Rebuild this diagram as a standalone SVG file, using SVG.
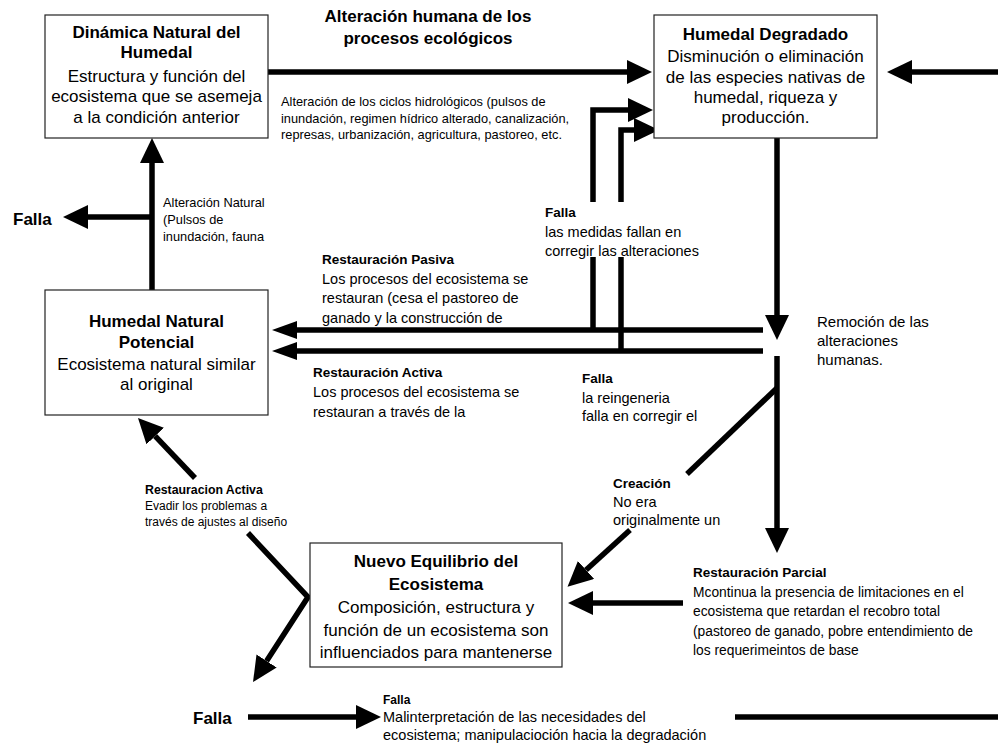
<svg xmlns="http://www.w3.org/2000/svg" width="998" height="746" viewBox="0 0 998 746">
<defs>
<marker id="ah" markerUnits="userSpaceOnUse" markerWidth="25" markerHeight="24" refX="0" refY="12" orient="auto" viewBox="0 0 25 24"><path d="M0,0 L25,12 L0,24 z" fill="#000"/></marker>
<marker id="ahn" markerUnits="userSpaceOnUse" markerWidth="25" markerHeight="18" refX="0" refY="9" orient="auto" viewBox="0 0 25 18"><path d="M0,0 L25,9 L0,18 z" fill="#000"/></marker>
</defs>
<style>
text{font-family:"Liberation Sans",Arial,sans-serif;fill:#000}
.box{fill:#fff;stroke:#222;stroke-width:1.2}
.t{font-size:17px;font-weight:bold;text-anchor:middle}
.b{font-size:17px;text-anchor:middle}
.s{font-size:12.8px}
.m{font-size:14.5px}
.mh{font-size:13.5px;font-weight:bold}
.c{fill:none;stroke:#000;stroke-width:5.5}
.a{marker-end:url(#ah)}
.an{marker-end:url(#ahn)}
</style>
<rect width="998" height="746" fill="#fff"/>
<g id="connectors">
<path class="c a" d="M268,72 H627"/>
<path class="c a" d="M998,72 H912"/>
<path class="c a" d="M152,290 V163"/>
<path class="c a" d="M152,217 H88"/>
<path class="c a" d="M777,138 V315"/>
<path class="c an" d="M763,330 H297"/>
<path class="c an" d="M763,351 H297"/>
<path class="c" d="M593,330 V257"/>
<path class="c a" d="M593,202 V110 H628"/>
<path class="c" d="M621,351 V257"/>
<path class="c a" d="M621,202 V130 H634"/>
<path class="c a" d="M777,356 V528"/>
<path class="c" d="M777,388 L687,474"/>
<path class="c a" d="M630,530 L586,570"/>
<path class="c a" d="M683,603 H593"/>
<path class="c a" d="M195,478 L155.2,436.1"/>
<path class="c a" d="M248,533 L308,597 L266.6,661"/>
<path class="c a" d="M248,717 H356"/>
<path class="c" d="M735,717 H998"/>
</g>
<g id="n1">
<rect class="box" x="45" y="15" width="223" height="123"/>
<text class="t" x="156.5" y="38">Dinámica Natural del</text>
<text class="t" x="156.5" y="58">Humedal</text>
<text class="b" x="156.5" y="82">Estructura y función del</text>
<text class="b" x="156.5" y="102">ecosistema que se asemeja</text>
<text class="b" x="156.5" y="122.5">a la condición anterior</text>
</g>
<g id="n2">
<rect class="box" x="654" y="15" width="223" height="123"/>
<text class="t" x="765.5" y="40">Humedal Degradado</text>
<text class="b" x="765.5" y="62">Disminución o eliminación</text>
<text class="b" x="765.5" y="83">de las especies nativas de</text>
<text class="b" x="765.5" y="103">humedal, riqueza y</text>
<text class="b" x="765.5" y="123">producción.</text>
</g>
<g id="n3">
<rect class="box" x="45" y="290" width="223" height="125"/>
<text class="t" x="156.5" y="327">Humedal Natural</text>
<text class="t" x="156.5" y="348">Potencial</text>
<text class="b" x="156.5" y="370">Ecosistema natural similar</text>
<text class="b" x="156.5" y="390">al original</text>
</g>
<g id="n4">
<rect class="box" x="310" y="543" width="252" height="124"/>
<text class="t" x="436" y="567">Nuevo Equilibrio del</text>
<text class="t" x="436" y="590">Ecosistema</text>
<text class="b" x="436" y="613">Composición, estructura y</text>
<text class="b" x="436" y="636">función de un ecosistema son</text>
<text class="b" x="436" y="658">influenciados para mantenerse</text>
</g>
<g id="labels">
<text class="t" x="428" y="22">Alteración humana de los</text>
<text class="t" x="428" y="44">procesos ecológicos</text>
<text class="s" x="281" y="106">Alteración de los ciclos hidrológicos (pulsos de</text>
<text class="s" x="281" y="122.5">inundación, regimen hídrico alterado, canalización,</text>
<text class="s" x="281" y="138.5">represas, urbanización, agricultura, pastoreo, etc.</text>
<text class="s" x="163" y="207">Alteración Natural</text>
<text class="s" x="163" y="224">(Pulsos de</text>
<text class="s" x="163" y="241">inundación, fauna</text>
<text x="13" y="225" style="font-size:17px;font-weight:bold">Falla</text>
<text class="mh" x="545" y="217">Falla</text>
<text class="m" x="545" y="237">las medidas fallan en</text>
<text class="m" x="545" y="256">corregir las alteraciones</text>
<text class="mh" x="322" y="264">Restauración Pasiva</text>
<text class="m" x="322" y="284">Los procesos del ecosistema se</text>
<text class="m" x="322" y="303">restauran (cesa el pastoreo de</text>
<text class="m" x="322" y="323">ganado y la construcción de</text>
<text class="mh" x="313" y="377">Restauración Activa</text>
<text class="m" x="313" y="397">Los procesos del ecosistema se</text>
<text class="m" x="313" y="417">restauran a través de la</text>
<text class="mh" x="582" y="383">Falla</text>
<text class="m" x="582" y="403">la reingeneria</text>
<text class="m" x="582" y="421">falla en corregir el</text>
<text x="817" y="327" style="font-size:15px">Remoción de las</text>
<text x="817" y="346" style="font-size:15px">alteraciones</text>
<text x="817" y="365" style="font-size:15px">humanas.</text>
<text class="mh" x="613" y="488">Creación</text>
<text class="m" x="613" y="507">No era</text>
<text class="m" x="613" y="525">originalmente un</text>
<text x="145" y="494" style="font-size:12.3px;font-weight:bold">Restauracion Activa</text>
<text x="145" y="510" style="font-size:12px">Evadir los problemas a</text>
<text x="145" y="526" style="font-size:12px">través de ajustes al diseño</text>
<text class="mh" x="693" y="577">Restauración Parcial</text>
<text x="693" y="597" style="font-size:13.8px">Mcontinua la presencia de limitaciones en el</text>
<text x="693" y="616" style="font-size:13.8px">ecosistema que retardan el recobro total</text>
<text x="693" y="636" style="font-size:13.8px">(pastoreo de ganado, pobre entendimiento de</text>
<text x="693" y="655" style="font-size:13.8px">los requerimeintos de base</text>
<text x="193" y="724" style="font-size:17px;font-weight:bold">Falla</text>
<text x="383" y="704" style="font-size:12px;font-weight:bold">Falla</text>
<text class="m" x="383" y="722">Malinterpretación de las necesidades del</text>
<text class="m" x="383" y="740">ecosistema; manipulacioción hacia la degradación</text>
</g>
</svg>
